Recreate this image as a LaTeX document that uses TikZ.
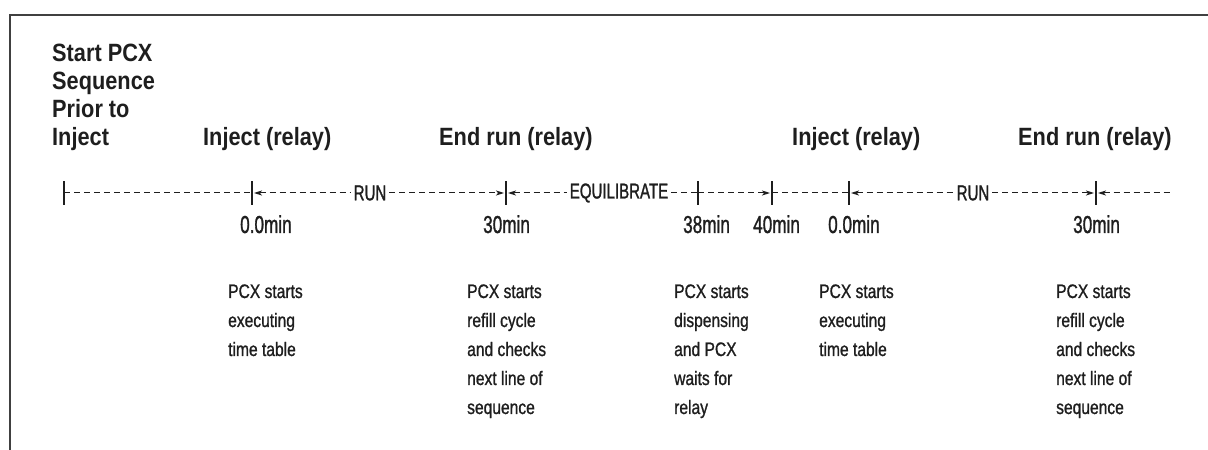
\documentclass[tikz,border=0pt]{standalone}
\usepackage{fontspec}
\usetikzlibrary{arrows.meta}
\newfontfamily\hfont{Liberation Sans Bold}[FakeStretch=0.87]
\newfontfamily\nfont{Liberation Sans}[FakeStretch=0.70,FakeBold=1.2]
\newfontfamily\dfont{Liberation Sans}[FakeStretch=0.80,FakeBold=1.0]
\definecolor{ink}{HTML}{1E1E1E}
\tikzset{
  head/.style={anchor=base west, inner sep=0pt, align=left, text=ink,
    font=\hfont\fontsize{25bp}{28bp}\selectfont},
  minlab/.style={anchor=base west, inner sep=0pt, text=ink,
    font=\nfont\fontsize{24.5bp}{28bp}\selectfont},
  tllab/.style={inner sep=2.5bp, text=ink,
    font=\nfont\fontsize{21.5bp}{24bp}\selectfont},
  desc/.style={anchor=base west, inner sep=0pt, align=left, text=ink,
    font=\dfont\fontsize{19.5bp}{29bp}\selectfont},
  tl/.style={draw=ink, line width=1bp, dash pattern=on 6bp off 4bp},
  tlr/.style={tl, arrows={Stealth[length=8bp,width=5bp,inset=2bp]-}, shorten <=2bp},
  tlf/.style={tl, arrows={-Stealth[length=8bp,width=5bp,inset=2bp]}, shorten >=2bp},
  tlp/.style={tl, arrows={-}},
  tickmark/.style={draw=ink, line width=1.2bp},
  frame/.style={draw=black!75, line width=1.8bp}
}
\begin{document}
\begin{tikzpicture}[x=1bp,y=-1bp]
\useasboundingbox (0,0) rectangle (1208,450);
% frame
\draw[frame] (10,452) -- (10,15) -- (1210,15);

% headings (base anchor = baseline of the last line)
\node[head] (start) at (52,146) {Start PCX\\Sequence\\Prior to\\Inject};
\node[head] (h1) at (203,146) {Inject (relay)};
\node[head] (h2) at (439,146) {End run (relay)};
\node[head] (h3) at (792,146) {Inject (relay)};
\node[head] (h4) at (1018,146) {End run (relay)};

% timeline coordinates
\coordinate (t0) at (64,193);
\coordinate (t1) at (252,193);
\coordinate (t2) at (506,193);
\coordinate (t3) at (698,193);
\coordinate (t4) at (772,193);
\coordinate (t5) at (849,193);
\coordinate (t6) at (1096,193);
\coordinate (tend) at (1173,193);

\node[tllab] (run1) at (370,193) {RUN};
\node[tllab] (equi) at (619,193) {EQUILIBRATE};
\node[tllab] (run2) at (973,193) {RUN};

% ticks
\foreach \t in {t0,t1,t2,t3,t4,t5,t6}
  \draw[tickmark] ([yshift=-12bp]\t) -- ([yshift=12bp]\t);

% timeline segments
\draw[tlp] (t0) -- (t1);
\draw[tlr] (t1) -- (run1.west);
\draw[tlf] (run1.east) -- (t2);
\draw[tlr] (t2) -- (equi.west);
\draw[tlp] (equi.east) -- (t3);
\draw[tlf] (t3) -- (t4);
\draw[tlp] (t4) -- (t5);
\draw[tlr] (t5) -- (run2.west);
\draw[tlf] (run2.east) -- (t6);
\draw[tlr] (t6) -- (tend);

% minute labels
\node[minlab] (m1) at (240,233) {0.0min};
\node[minlab] (m2) at (483,233) {30min};
\node[minlab] (m3) at (683,233) {38min};
\node[minlab] (m4) at (753,233) {40min};
\node[minlab] (m5) at (828,233) {0.0min};
\node[minlab] (m6) at (1073,233) {30min};

% descriptions (base anchor = baseline of the last line)
\node[desc] (d1) at (228,356) {PCX starts\\executing\\time table};
\node[desc] (d2) at (467,414) {PCX starts\\refill cycle\\and checks\\next line of\\sequence};
\node[desc] (d3) at (674,414) {PCX starts\\dispensing\\and PCX\\waits for\\relay};
\node[desc] (d4) at (819,356) {PCX starts\\executing\\time table};
\node[desc] (d5) at (1056,414) {PCX starts\\refill cycle\\and checks\\next line of\\sequence};
\end{tikzpicture}
\end{document}
